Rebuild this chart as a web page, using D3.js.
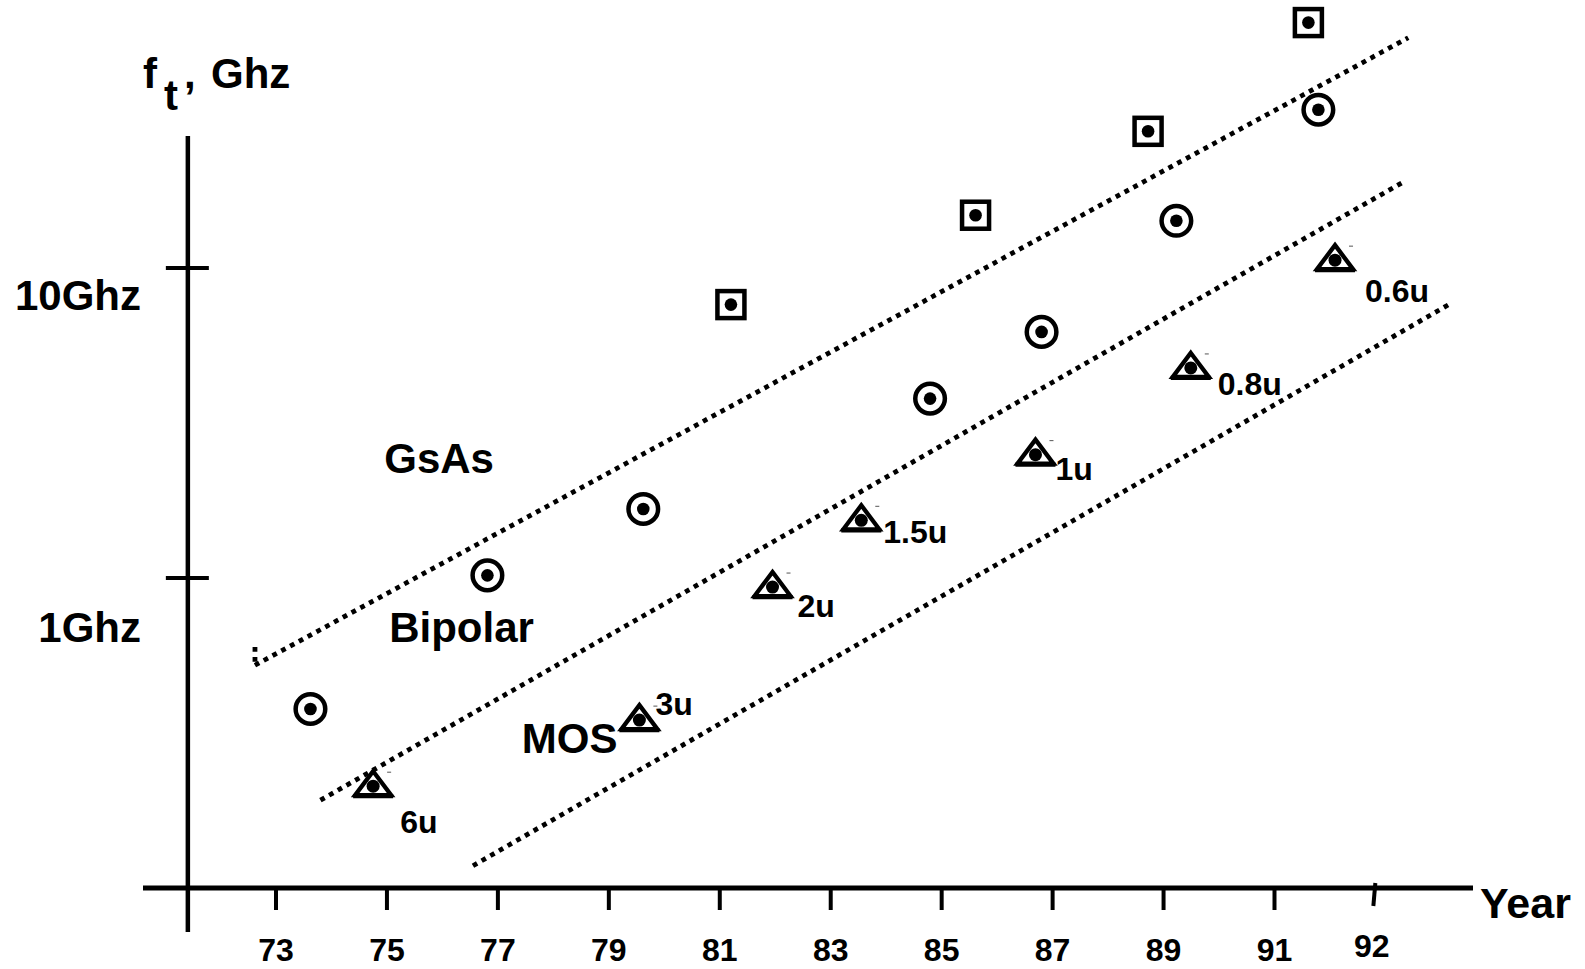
<!DOCTYPE html>
<html>
<head>
<meta charset="utf-8">
<script src="https://cdn.jsdelivr.net/npm/d3@7"></script>
<style>
  html, body { margin: 0; padding: 0; background: #fff; }
  svg text { font-family: "Liberation Sans", Arial, sans-serif; font-weight: bold; fill: #000; }
</style>
</head>
<body>
<svg id="chart"></svg>
<script>
// --- data (year, GHz) ---
const gaasYear = [81.21, 85.62, 88.73, 91.62];
const gaasGhz = [7.62, 14.8, 27.6, 61.9];

const bipolarYear = [73.63, 76.82, 79.63, 84.80, 86.81, 89.24, 91.80];
const bipolarGhz = [0.378, 1.02, 1.67, 3.79, 6.22, 14.2, 32.4];

const mosYear = [74.76, 79.56, 81.96, 83.56, 86.70, 89.50, 92.10];
const mosGhz = [0.213, 0.348, 0.935, 1.535, 2.50, 4.76, 10.6];
const mosNode = ["6u", "3u", "2u", "1.5u", "1u", "0.8u", "0.6u"];

// dotted trend lines, [year, GHz] end points
const trendLines = [
  [[72.63, 0.523], [93.42, 55.3]],
  [[73.81, 0.192], [93.30, 18.8]],
  [[76.56, 0.118], [94.20, 7.71]]
];
const trendStub = [[72.63, 0.599], [72.63, 0.523]];

const xTicks = [73, 75, 77, 79, 81, 83, 85, 87, 89, 91];
const xLastTick = {year: 92.8, label: "92"};
const yTicks = [1, 10];
const yTickLabels = ["1Ghz", "10Ghz"];

const groupNames = ["GsAs", "Bipolar", "MOS"];
const groupAt = [[74.96, 2.18], [75.05, 0.621], [77.44, 0.272]];

// label nudges for the MOS node sizes (px from the point)
const nodeNudge = [[27, 47], [16, -5], [25, 30], [22, 23], [20, 25], [27, 27], [30, 42]];

const width = 1585;
const height = 969;

const x = d3.scaleLinear().domain([73, 91]).range([275.5, 1274]);
const y = d3.scaleLog().domain([0.1, 10]).range([888, 268]);

const svg = d3.select("#chart")
    .attr("width", width)
    .attr("height", height)
    .attr("viewBox", [0, 0, width, height]);

// axes
const axisX = x(71.42);
svg.append("line")
    .attr("x1", axisX).attr("x2", axisX)
    .attr("y1", 136).attr("y2", 932)
    .attr("stroke", "#000").attr("stroke-width", 4.5);
svg.append("line")
    .attr("x1", 143).attr("x2", 1473)
    .attr("y1", y(0.1)).attr("y2", y(0.1))
    .attr("stroke", "#000").attr("stroke-width", 5);

const xAxis = d3.axisBottom(x)
    .tickValues(xTicks)
    .tickSize(22)
    .tickPadding(0)
    .tickFormat(d => d);
svg.append("g")
    .attr("transform", `translate(0,${y(0.1)})`)
    .call(xAxis)
    .call(g => g.select(".domain").remove())
    .call(g => g.selectAll(".tick line").attr("stroke", "#000").attr("stroke-width", 4))
    .call(g => g.selectAll(".tick text")
        .attr("y", 73)
        .attr("dy", 0)
        .attr("font-size", 32)
        .attr("font-family", null)
        .attr("fill", "#000"));

// the odd last tick
svg.append("line")
    .attr("x1", x(xLastTick.year) + 1.5).attr("x2", x(xLastTick.year) - 0.5)
    .attr("y1", y(0.1) - 5).attr("y2", y(0.1) + 18)
    .attr("stroke", "#000").attr("stroke-width", 4);
svg.append("text")
    .attr("x", x(xLastTick.year) - 2)
    .attr("y", 957)
    .attr("text-anchor", "middle")
    .attr("font-size", 32)
    .text(xLastTick.label);

svg.append("text")
    .attr("x", 1480).attr("y", 918)
    .attr("font-size", 43)
    .text("Year");

// y ticks cross the axis
svg.append("g")
  .selectAll("line")
  .data(yTicks)
  .join("line")
    .attr("x1", axisX - 22).attr("x2", axisX + 21)
    .attr("y1", d => y(d)).attr("y2", d => y(d))
    .attr("stroke", "#000").attr("stroke-width", 4);
const yLabelDy = [64, 42];
svg.append("g")
  .selectAll("text")
  .data(yTicks)
  .join("text")
    .attr("x", 141)
    .attr("y", (d, i) => y(d) + yLabelDy[i])
    .attr("text-anchor", "end")
    .attr("font-size", 42)
    .text((d, i) => yTickLabels[i]);

// y title: f_t, Ghz
const title = svg.append("g");
title.append("text").attr("x", 143).attr("y", 88).attr("font-size", 42).text("f");
title.append("text").attr("x", 164).attr("y", 110).attr("font-size", 42).text("t");
title.append("text").attr("x", 184).attr("y", 88).attr("font-size", 42).text(",");
title.append("text").attr("x", 211).attr("y", 88).attr("font-size", 42).text("Ghz");

// dotted trend lines
const line = d3.line().x(d => x(d[0])).y(d => y(d[1]));
svg.append("g")
  .selectAll("path")
  .data(trendLines.concat([trendStub]))
  .join("path")
    .attr("d", line)
    .attr("fill", "none")
    .attr("stroke", "#000")
    .attr("stroke-width", 4.8)
    .attr("stroke-dasharray", "4.8 5.2");

// GaAs squares
const gaas = d3.zip(gaasYear, gaasGhz);
const sq = svg.append("g")
  .selectAll("g")
  .data(gaas)
  .join("g")
    .attr("transform", d => `translate(${x(d[0])},${y(d[1])})`);
sq.append("rect")
    .attr("x", -13.5).attr("y", -13.5)
    .attr("width", 27).attr("height", 27)
    .attr("fill", "none").attr("stroke", "#000").attr("stroke-width", 4.5);
sq.append("circle").attr("r", 6.3).attr("fill", "#000");

// Bipolar circles
const bipolar = d3.zip(bipolarYear, bipolarGhz);
const ci = svg.append("g")
  .selectAll("g")
  .data(bipolar)
  .join("g")
    .attr("transform", d => `translate(${x(d[0])},${y(d[1])})`);
ci.append("circle")
    .attr("r", 14.8)
    .attr("fill", "none").attr("stroke", "#000").attr("stroke-width", 4.5);
ci.append("circle").attr("r", 6.3).attr("fill", "#000");

// MOS triangles
const mos = d3.zip(mosYear, mosGhz, mosNode);
const tr = svg.append("g")
  .selectAll("g")
  .data(mos)
  .join("g")
    .attr("transform", d => `translate(${x(d[0])},${y(d[1])})`);
tr.append("path")
    .attr("d", "M0,-15L18,9L-18,9Z")
    .attr("fill", "none").attr("stroke", "#000").attr("stroke-width", 4.3)
    .attr("stroke-linejoin", "miter");
tr.append("line")
    .attr("x1", -20).attr("x2", 20).attr("y1", 10).attr("y2", 10)
    .attr("stroke", "#000").attr("stroke-width", 4.3);
tr.append("circle").attr("r", 6.5).attr("fill", "#000");
tr.append("line")
    .attr("x1", 14).attr("x2", 18).attr("y1", -14).attr("y2", -14)
    .attr("stroke", "#555").attr("stroke-width", 1);
tr.append("text")
    .attr("x", (d, i) => nodeNudge[i][0])
    .attr("y", (d, i) => nodeNudge[i][1])
    .attr("font-size", 32)
    .text(d => d[2]);

// group names
svg.append("g")
  .selectAll("text")
  .data(groupNames)
  .join("text")
    .attr("x", (d, i) => x(groupAt[i][0]))
    .attr("y", (d, i) => y(groupAt[i][1]))
    .attr("font-size", 42)
    .text(d => d);
</script>
</body>
</html>
